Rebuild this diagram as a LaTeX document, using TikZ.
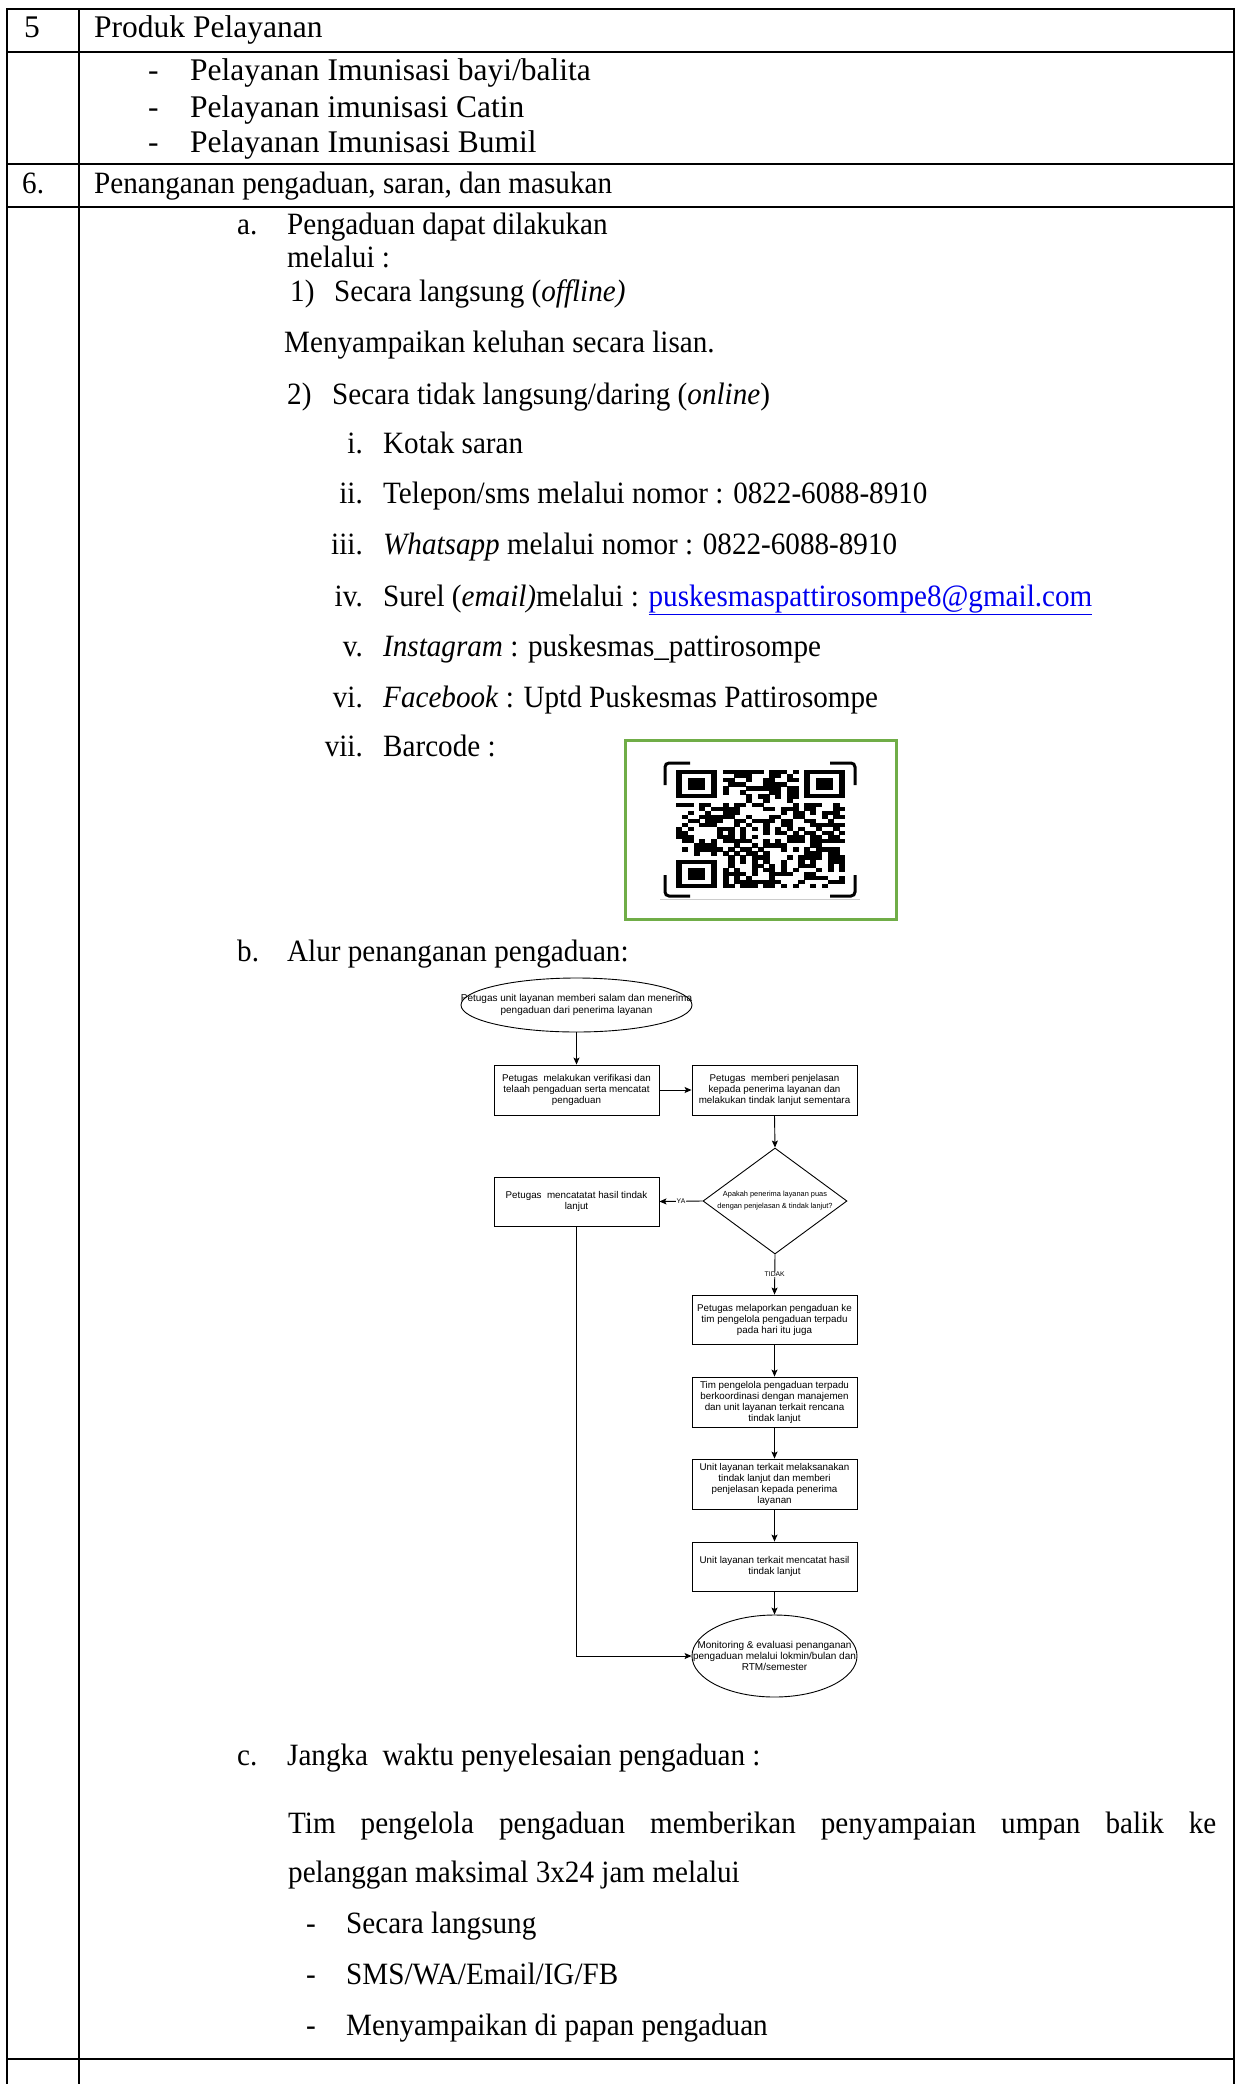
\documentclass[tikz,border=0pt]{standalone}
\usepackage{fontspec}
\setmainfont{Liberation Serif}[FakeStretch=0.94]
\newfontfamily\plainserif{Liberation Serif}
\newfontfamily\flowfont{Liberation Sans}
\usetikzlibrary{shapes.geometric,arrows.meta}
\definecolor{qrgreen}{RGB}{112,173,71}
\definecolor{linkblue}{RGB}{0,0,238}
\newcommand{\bodysz}{\fontsize{31}{36}\selectfont}
\newcommand{\rowsz}{\plainserif\fontsize{31.5}{36}\selectfont}
\begin{document}
\begin{tikzpicture}[x=1pt,y=-1pt,
  tx/.style={anchor=base west,inner sep=0,font=\bodysz},
  tf/.style={anchor=base west,inner sep=0,font=\rowsz},
  rn/.style={anchor=base east,inner sep=0,font=\bodysz},
  grid/.style={line width=2.5pt,line cap=rect},
  fbox/.style={draw,rectangle,line width=0.9pt,minimum width=165,inner sep=0},
  fell/.style={draw,ellipse,line width=0.9pt,minimum width=#1,inner sep=0},
  ft/.style={align=center,inner sep=0,font=\flowfont\fontsize{9.8}{11}\selectfont},
  fe/.style={align=center,inner sep=0,font=\flowfont\fontsize{10}{11.3}\selectfont},
  lbl/.style={inner sep=0.5,font=\flowfont\fontsize{6.8}{7}\selectfont},
  arr/.style={line width=0.9pt,-{Stealth[length=7,width=6,inset=1.5]}}]
\useasboundingbox (0,0) rectangle (1239,2084);

% table rules
\draw[grid] (7,9) -- (1234,9);
\draw[grid] (7,52) -- (1234,52);
\draw[grid] (7,164) -- (1234,164);
\draw[grid] (7,207) -- (1234,207);
\draw[grid] (7,2059) -- (1234,2059);
\draw[grid] (7,9) -- (7,2090);
\draw[grid] (79,9) -- (79,2090);
\draw[grid] (1234,9) -- (1234,2090);

% row 5
\node[tf] (n5) at (24,38) {5};
\node[tf] (h5) at (94,38) {Produk Pelayanan};
\node[tf] (d1) at (148,81) {-};
\node[tf] (p1) at (190,81) {Pelayanan Imunisasi bayi/balita};
\node[tf] (d2) at (148,118) {-};
\node[tf] (p2) at (190,118) {Pelayanan imunisasi Catin};
\node[tf] (d3) at (148,153) {-};
\node[tf] (p3) at (190,153) {Pelayanan Imunisasi Bumil};

% row 6
\node[tx] (n6) at (22,194) {6.};
\node[tx] (h6) at (94,194) {Penanganan pengaduan, saran, dan masukan};

\node[tx] (la) at (237,235) {a.};
\node[tx] (a1) at (287,235) {Pengaduan dapat dilakukan};
\node[tx] (a2) at (287,267) {melalui :};
\node[tx] (m1) at (290,301) {1)};
\node[tx] (a3) at (334,301) {Secara langsung (\textit{offline)}};
\node[tx] (a4) at (284,352) {Menyampaikan keluhan secara lisan.};
\node[tx] (m2) at (287,404) {2)};
\node[tx] (a5) at (332,404) {Secara tidak langsung/daring (\textit{online})};

\node[rn] (r1) at (363,453) {i.};
\node[tx] (s1) at (383,453) {Kotak saran};
\node[rn] (r2) at (363,503) {ii.};
\node[tx] (s2) at (383,503) {Telepon/sms melalui nomor : 0822-6088-8910};
\node[rn] (r3) at (363,554) {iii.};
\node[tx] (s3) at (383,554) {\textit{Whatsapp} melalui nomor : 0822-6088-8910};
\node[rn] (r4) at (363,606) {iv.};
\node[tx] (s4) at (383,606) {Surel (\textit{email)}melalui : \textcolor{linkblue}{\underline{puskesmaspattirosompe8@gmail.com}}};
\node[rn] (r5) at (363,656) {v.};
\node[tx] (s5) at (383,656) {\textit{Instagram} : puskesmas\_pattirosompe};
\node[rn] (r6) at (363,707) {vi.};
\node[tx] (s6) at (383,707) {\textit{Facebook} : Uptd Puskesmas Pattirosompe};
\node[rn] (r7) at (363,756) {vii.};
\node[tx] (s7) at (383,756) {Barcode :};

% QR code panel
\node[draw=qrgreen,line width=3pt,minimum width=271,minimum height=179,inner sep=0] (qrbox) at (760.5,829.5) {};
\pgfmathsetseed{4242}
\foreach \r in {0,...,28}{
  \foreach \c in {0,...,28}{
    \pgfmathtruncatemacro\infind{((\r<8)&&(\c<8))||((\r<8)&&(\c>20))||((\r>20)&&(\c<8)) ? 1 : 0}
    \pgfmathsetmacro\rv{rnd}
    \ifnum\infind=0
      \ifdim\rv pt<0.5pt
        \fill ({676+\c*5.83},{770+\r*4.07}) rectangle ++(6.1,4.3);
      \fi
    \fi
  }
}
\foreach \cx/\cy in {0/0,22/0,0/22}{
  \fill[black] ({676+\cx*5.83},{770+\cy*4.07}) rectangle ++({7*5.83},{7*4.07});
  \fill[white] ({676+(\cx+1)*5.83},{770+(\cy+1)*4.07}) rectangle ++({5*5.83},{5*4.07});
  \fill[black] ({676+(\cx+2)*5.83},{770+(\cy+2)*4.07}) rectangle ++({3*5.83},{3*4.07});
}
\draw[line width=3pt,rounded corners=4] (665,785) -- (665,763) -- (690,763);
\draw[line width=3pt,rounded corners=4] (830,763) -- (855,763) -- (855,785);
\draw[line width=3pt,rounded corners=4] (665,875) -- (665,896) -- (690,896);
\draw[line width=3pt,rounded corners=4] (830,896) -- (855,896) -- (855,875);
\draw[black!20,line width=0.8pt] (660,899) -- (860,899);

% b. flow of complaint handling
\node[tx] (lb) at (237,961) {b.};
\node[tx] (b0) at (287,961) {Alur penanganan pengaduan:};

\node[fell=231,minimum height=54] (e1) at (576.5,1005) {};
\node[fe] (e1t) at (e1) {Petugas unit layanan memberi salam dan menerima\\pengaduan dari penerima layanan};
\node[fbox,minimum height=50] (b1) at (576.5,1090) {};
\node[ft] (b1t) at (b1) {Petugas~ melakukan verifikasi dan\\telaah pengaduan serta mencatat\\pengaduan};
\node[fbox,minimum height=50] (b2) at (774.5,1090) {};
\node[ft] (b2t) at (b2) {Petugas~ memberi penjelasan\\kepada penerima layanan dan\\melakukan tindak lanjut sementara};
\node[draw,diamond,line width=0.9pt,minimum width=144,minimum height=106,inner sep=0] (dm) at (775,1201) {};
\node[align=center,inner sep=0,font=\flowfont\fontsize{7.4}{12}\selectfont] (dmt) at (dm) {Apakah penerima layanan puas\\dengan penjelasan \& tindak lanjut?};
\node[fbox,minimum height=49] (b3) at (576.5,1201.5) {};
\node[ft] (b3t) at (b3) {Petugas~ mencatatat hasil tindak\\lanjut};
\node[fbox,minimum height=49] (b4) at (774.5,1319.5) {};
\node[ft] (b4t) at (b4) {Petugas melaporkan pengaduan ke\\tim pengelola pengaduan terpadu\\pada hari itu juga};
\node[fbox,minimum height=50] (b5) at (774.5,1402) {};
\node[ft] (b5t) at (b5) {Tim pengelola pengaduan terpadu\\berkoordinasi dengan manajemen\\dan unit layanan terkait rencana\\tindak lanjut};
\node[fbox,minimum height=50] (b6) at (774.5,1484) {};
\node[ft] (b6t) at (b6) {Unit layanan terkait melaksanakan\\tindak lanjut dan memberi\\penjelasan kepada penerima\\layanan};
\node[fbox,minimum height=49] (b7) at (774.5,1566.5) {};
\node[ft] (b7t) at (b7) {Unit layanan terkait mencatat hasil\\tindak lanjut};
\node[fell=165,minimum height=82] (e2) at (774.5,1656) {};
\node[fe] (e2t) at (e2) {Monitoring \& evaluasi penanganan\\pengaduan melalui lokmin/bulan dan\\RTM/semester};

\draw[arr] (e1.south) -- (b1.north);
\draw[arr] (b1.east) -- (b2.west);
\draw[arr] (b2.south) -- (dm.north);
\draw[arr] (dm.west) -- node[lbl,fill=white] (ya) {YA} (b3.east);
\draw[arr] (dm.south) -- node[lbl,fill=white] (tidak) {TIDAK} (b4.north);
\draw[arr] (b4.south) -- (b5.north);
\draw[arr] (b5.south) -- (b6.north);
\draw[arr] (b6.south) -- (b7.north);
\draw[arr] (b7.south) -- (e2.north);
\draw[arr] (b3.south) |- (e2.west);

% c. time limit
\node[tx] (lc) at (237,1765) {c.};
\node[tx] (c1) at (287,1765) {Jangka~ waktu penyelesaian pengaduan :};
\node[tx] (c2) at (288,1833) {\makebox[928pt][s]{Tim pengelola pengaduan memberikan penyampaian umpan balik ke}};
\node[tx] (c3) at (288,1882) {pelanggan maksimal 3x24 jam melalui};
\node[tx] (cd1) at (306,1933) {-};
\node[tx] (cs1) at (346,1933) {Secara langsung};
\node[tx] (cd2) at (306,1984) {-};
\node[tx] (cs2) at (346,1984) {SMS/WA/Email/IG/FB};
\node[tx] (cd3) at (306,2035) {-};
\node[tx] (cs3) at (346,2035) {Menyampaikan di papan pengaduan};
\end{tikzpicture}
\end{document}
